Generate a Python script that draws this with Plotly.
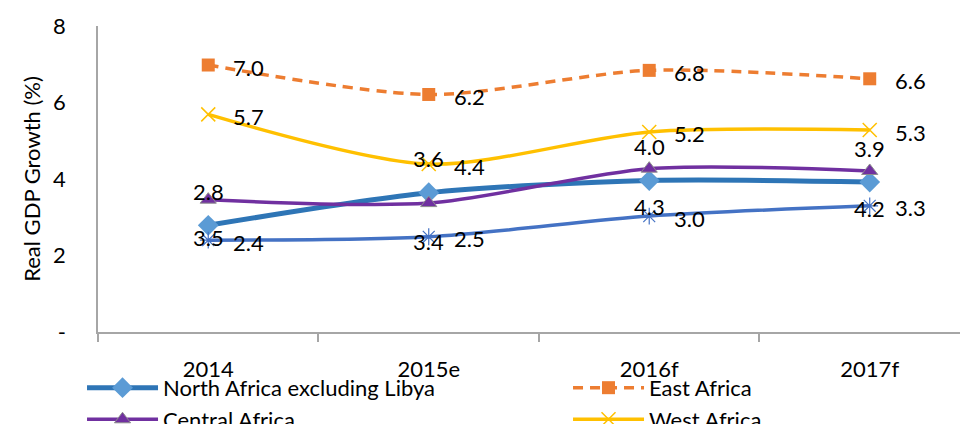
import plotly.graph_objects as go

categories = ["2014", "2015e", "2016f", "2017f"]
north = [2.79, 3.64, 3.96, 3.92]
east = [6.98, 6.21, 6.84, 6.62]
central = [3.46, 3.37, 4.27, 4.21]
west = [5.69, 4.39, 5.23, 5.28]
southern = [2.40, 2.49, 3.03, 3.30]
y_ticks = [0, 2, 4, 6, 8]
y_ticktext = ["-", "2", "4", "6", "8"]

FONT = "Lato"
FS = 22
fig = go.Figure()

series = [
    dict(name="North Africa excluding Libya", y=north, line=dict(color="#2E75B6", width=5, shape="spline", smoothing=0.8),
         marker=dict(symbol="diamond", size=16, color="#5B9BD5"), lab="above"),
    dict(name="East Africa", y=east, line=dict(color="#ED7D31", width=3.5, dash="10px,7px", shape="spline", smoothing=0.8),
         marker=dict(symbol="square", size=13, color="#ED7D31"), lab="right"),
    dict(name="Central Africa", y=central, line=dict(color="#7030A0", width=3.5, shape="spline", smoothing=0.8),
         marker=dict(symbol="triangle-up", size=14, color="#7030A0", line=dict(color="#8c8c8c", width=1)), lab="below"),
    dict(name="West Africa", y=west, line=dict(color="#FFC000", width=3.5, shape="spline", smoothing=0.8),
         marker=dict(symbol="x-thin-open", size=14, color="#FFC000", line=dict(color="#FFC000", width=1.5)), lab="right"),
    dict(name="Southern Africa", y=southern, line=dict(color="#4472C4", width=3.5, shape="spline", smoothing=0.8),
         marker=dict(symbol="asterisk-open", size=14, color="#4472C4", line=dict(color="#4472C4", width=1.2)), lab="right"),
]

for s in series:
    fig.add_trace(go.Scatter(x=categories, y=s["y"], name=s["name"], mode="lines+markers",
                             line=s["line"], marker=s["marker"], cliponaxis=False))

for s in series:
    for i, v in enumerate(s["y"]):
        common = dict(x=i, y=v, text=f"{v:.1f}", showarrow=False, font=dict(family=FONT, size=FS, color="#000"))
        if s["lab"] == "right":
            fig.add_annotation(**common, xanchor="left", yanchor="middle", xshift=23, yshift=-2)
        elif s["lab"] == "above":
            fig.add_annotation(**common, xanchor="center", yanchor="middle", yshift=34)
        else:
            fig.add_annotation(**common, xanchor="center", yanchor="middle", yshift=-38)

fig.update_layout(
    width=968, height=424,
    margin=dict(l=90, r=0, t=18, b=100, autoexpand=False),
    paper_bgcolor="white", plot_bgcolor="white",
    font=dict(family=FONT, size=FS, color="#000"),
    showlegend=True,
    legend=dict(orientation="h", x=-0.0182, y=-0.114, xanchor="left", yanchor="top",
                entrywidth=400, entrywidthmode="pixels", itemwidth=71,
                bgcolor="rgba(0,0,0,0)",
                font=dict(family=FONT, size=FS, color="#000"), tracegroupgap=0),
)
fig.update_xaxes(type="category", range=[-0.5, 3.482], showline=True, linecolor="#a6a6a6", linewidth=1.5,
                 ticks="outside", tickson="boundaries", ticklen=8, tickcolor="#a6a6a6", tickwidth=1.5,
                 ticklabelstandoff=17,
                 showgrid=False, zeroline=False, tickfont=dict(family=FONT, size=FS))
fig.update_yaxes(range=[0, 8], tickvals=y_ticks, ticktext=y_ticktext, showline=True, linecolor="#a6a6a6", linewidth=1.5,
                 ticks="", showgrid=False, zeroline=False, ticklabelstandoff=26,
                 tickfont=dict(family=FONT, size=FS),
                 title=dict(text="Real GDP Growth (%)", font=dict(family=FONT, size=FS), standoff=6))

fig.write_html("out.html")
